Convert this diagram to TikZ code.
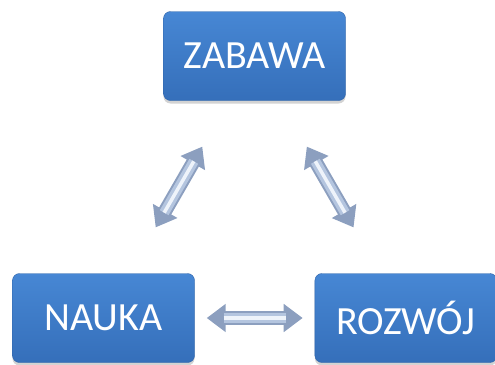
\documentclass[tikz,border=0pt]{standalone}
\usepackage{fontspec}
\setmainfont{Carlito}
\usepackage{xcolor}
\usetikzlibrary{positioning,arrows.meta,shadows}
\definecolor{boxtop}{HTML}{4787D4}
\definecolor{boxbottom}{HTML}{356FBA}
\definecolor{boxedge}{HTML}{2F63A8}
\definecolor{arrowedge}{HTML}{8C9FBF}
\definecolor{arrowbody}{HTML}{B4C5DF}
\definecolor{arrowshine}{HTML}{EEF3FA}
\tikzset{
    blue-box/.style = {draw=boxedge, thin, rectangle, rounded corners=7pt, top color=boxtop, bottom color=boxbottom,
        text=white, font=\fontsize{40}{40}\selectfont, minimum width=182pt, minimum height=89pt,
        drop shadow={opacity=0.35, shadow xshift=0pt, shadow yshift=-3pt}},
    arrow-base/.style = {arrowedge, line width=14pt, {Triangle[width=27pt,length=19pt]}-{Triangle[width=27pt,length=19pt]}},
    arrow-body/.style = {arrowbody, line width=10pt},
    arrow-shine/.style = {arrowshine, line width=3.5pt},
}

\begin{document}
\begin{tikzpicture}[x=1pt,y=-1pt]
\useasboundingbox (0,0) rectangle (495,364);
\node [blue-box] (zab) at (254.5,56) {ZABAWA};
\node [blue-box] (nau) at (103.5,318) {NAUKA};
\node [blue-box, right=120pt of nau] (roz) {ROZWÓJ};
\draw [arrow-base, shorten <=53pt, shorten >=53pt] (nau) -- (zab);
\draw [arrow-body, shorten <=70pt, shorten >=70pt] (nau) -- (zab);
\draw [arrow-shine, shorten <=70pt, shorten >=70pt] (nau) -- (zab);
\draw [arrow-base, shorten <=53pt, shorten >=53pt] (zab) -- (roz);
\draw [arrow-body, shorten <=70pt, shorten >=70pt] (zab) -- (roz);
\draw [arrow-shine, shorten <=70pt, shorten >=70pt] (zab) -- (roz);
\draw [arrow-base, shorten <=12pt, shorten >=12pt] (nau) -- (roz);
\draw [arrow-body, shorten <=29pt, shorten >=29pt] (nau) -- (roz);
\draw [arrow-shine, shorten <=29pt, shorten >=29pt] (nau) -- (roz);
\end{tikzpicture}
\end{document}
